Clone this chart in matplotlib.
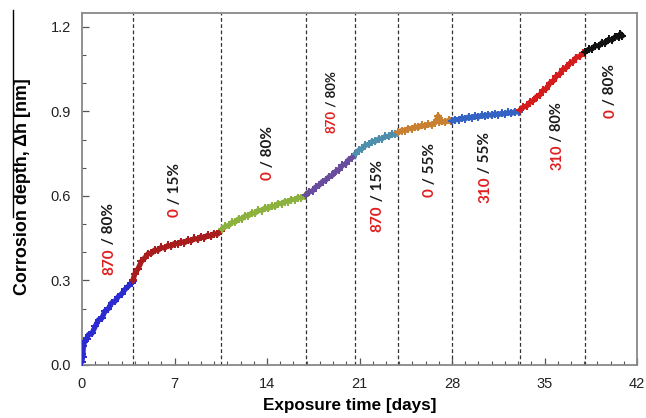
import matplotlib
matplotlib.use("Agg")
import matplotlib.pyplot as plt
from matplotlib.ticker import MultipleLocator, FormatStrFormatter
from matplotlib.lines import Line2D

# ---------------- data ----------------
t1 = [0.0, 0.03, 0.06, 0.1, 0.2, 0.35, 0.5, 0.75, 1.0, 1.25, 1.5, 1.75, 2.0, 2.25, 2.5, 2.75, 3.0, 3.25, 3.5, 3.75, 3.83]
v1 = [0.012, 0.040, 0.028, 0.066, 0.084, 0.092, 0.108, 0.112, 0.137, 0.160, 0.166, 0.192, 0.200, 0.221, 0.226, 0.243, 0.252, 0.268, 0.279, 0.292, 0.298]

t2 = [3.85, 4.0, 4.25, 4.5, 4.75, 5.0, 5.25, 5.5, 5.75, 6.0, 6.25, 6.5, 6.75, 7.0, 7.25, 7.5, 7.75, 8.0,
      8.25, 8.5, 8.75, 9.0, 9.25, 9.5, 9.75, 10.0, 10.25, 10.5]
v2 = [0.300, 0.324, 0.342, 0.368, 0.380, 0.395, 0.396, 0.408, 0.407, 0.417, 0.415, 0.424, 0.422, 0.431, 0.430, 0.437, 0.434, 0.443,
      0.440, 0.449, 0.446, 0.455, 0.451, 0.460, 0.457, 0.466, 0.464, 0.474]

t3 = [10.6, 10.85, 11.1, 11.35, 11.6, 11.85, 12.1, 12.35, 12.6, 12.85, 13.1, 13.35, 13.6, 13.85, 14.1, 14.35,
      14.6, 14.85, 15.1, 15.35, 15.6, 15.85, 16.1, 16.35, 16.6, 16.85]
v3 = [0.482, 0.492, 0.495, 0.506, 0.508, 0.518, 0.519, 0.529, 0.530, 0.539, 0.539, 0.549, 0.548, 0.557, 0.556, 0.564,
      0.563, 0.573, 0.572, 0.580, 0.580, 0.587, 0.586, 0.594, 0.593, 0.600]

t4 = [16.95, 17.2, 17.45, 17.7, 17.95, 18.2, 18.45, 18.7, 18.95, 19.2, 19.45, 19.7, 19.95, 20.2, 20.45, 20.65]
v4 = [0.603, 0.614, 0.618, 0.632, 0.638, 0.651, 0.656, 0.668, 0.673, 0.687, 0.693, 0.708, 0.714, 0.729, 0.736, 0.747]

t5 = [20.7, 20.95, 21.2, 21.45, 21.7, 21.95, 22.2, 22.45, 22.7, 22.95, 23.2, 23.45, 23.7, 23.9]
v5 = [0.750, 0.762, 0.768, 0.780, 0.783, 0.793, 0.794, 0.802, 0.803, 0.811, 0.811, 0.819, 0.818, 0.823]

t6 = [23.95, 24.2, 24.45, 24.7, 24.95, 25.2, 25.45, 25.7, 25.95, 26.2, 26.45, 26.7, 26.85, 26.95, 27.05, 27.25, 27.5, 27.75, 27.95]
v6 = [0.826, 0.832, 0.832, 0.839, 0.838, 0.845, 0.843, 0.850, 0.848, 0.854, 0.852, 0.859, 0.870, 0.884, 0.862, 0.864, 0.862, 0.868, 0.866]

t7 = [28.0, 28.25, 28.5, 28.75, 29.0, 29.25, 29.5, 29.75, 30.0, 30.25, 30.5, 30.75, 31.0, 31.25, 31.5, 31.75,
      32.0, 32.25, 32.5, 32.75, 33.05]
v7 = [0.866, 0.871, 0.870, 0.876, 0.874, 0.880, 0.877, 0.883, 0.880, 0.886, 0.883, 0.888, 0.886, 0.891, 0.888, 0.893,
      0.891, 0.896, 0.893, 0.899, 0.897]

t8 = [33.15, 33.4, 33.65, 33.9, 34.15, 34.4, 34.65, 34.9, 35.15, 35.4, 35.65, 35.9, 36.15, 36.4, 36.65, 36.9,
      37.15, 37.4, 37.65, 37.9, 38.0]
v8 = [0.905, 0.915, 0.919, 0.932, 0.938, 0.952, 0.958, 0.975, 0.981, 1.000, 1.007, 1.025, 1.032, 1.049, 1.055, 1.070,
      1.076, 1.091, 1.095, 1.106, 1.108]

t9 = [38.1, 38.35, 38.6, 38.85, 39.1, 39.35, 39.6, 39.85, 40.1, 40.35, 40.6, 40.75, 40.9]
v9 = [1.111, 1.120, 1.122, 1.133, 1.132, 1.143, 1.143, 1.155, 1.153, 1.164, 1.163, 1.175, 1.168]

segment_times = [t1, t2, t3, t4, t5, t6, t7, t8, t9]
segment_values = [v1, v2, v3, v4, v5, v6, v7, v8, v9]
segment_colors = ["#2b2bd0", "#a81c1c", "#8db13f", "#6a4c9c", "#4f8fae",
                  "#c98030", "#3563c4", "#d41c1c", "#111111"]

boundaries = [3.83, 10.55, 16.92, 20.67, 23.92, 27.97, 33.13, 38.04]

label_nums = ["870", "0", "0", "870", "870", "0", "310", "310", "0"]
label_rest = [" / 80%", " / 15%", " / 80%", " / 80%", " / 15%", " / 55%", " / 55%", " / 80%", " / 80%"]
# placement (day, bottom of text in data units, font size)
label_pos_x = [2.04, 7.04, 14.08, 18.85, 22.37, 26.34, 30.5, 35.96, 39.97]
label_pos_y = [0.319, 0.526, 0.656, 0.823, 0.473, 0.596, 0.574, 0.691, 0.876]
label_fs = [11, 11, 11, 9.5, 11, 11, 11, 10.5, 11]

xticks = [0, 7, 14, 21, 28, 35, 42]
yticks = [0.0, 0.3, 0.6, 0.9, 1.2]

# ---------------- figure ----------------
fig = plt.figure(figsize=(6.46, 4.18), dpi=100)
ax = fig.add_axes([82 / 646, 1 - 365 / 418, 555 / 646, (365 - 12.7) / 418])

for b in boundaries:
    ax.axvline(b, color="#333333", lw=0.9, ls=(0, (3, 2)), zorder=1)

for tt, vv, c in zip(segment_times, segment_values, segment_colors):
    ax.plot(tt, vv, color=c, lw=3.8, marker="P", ms=6, mew=0, zorder=3,
            solid_joinstyle="round", solid_capstyle="round")

ax.set_xlim(0, 42)
ax.set_ylim(0, 1.25)
ax.set_xticks(xticks)
ax.set_yticks(yticks)
ax.xaxis.set_minor_locator(MultipleLocator(1))
ax.yaxis.set_minor_locator(MultipleLocator(0.1))
ax.yaxis.set_major_formatter(FormatStrFormatter("%.1f"))

for lab in ax.get_xticklabels() + ax.get_yticklabels():
    lab.set_fontfamily("Liberation Sans")
    lab.set_fontsize(10.5)
    lab.set_color("#222222")

ax.tick_params(which="major", direction="in", length=5, width=0.9, color="#555555", pad=8)
ax.tick_params(which="minor", direction="in", length=3, width=0.8, color="#555555")
ax.tick_params(axis="x", which="major", pad=9)

for s in ax.spines.values():
    s.set_color("#888888")
    s.set_linewidth(1.3)

ax.set_xlabel("Exposure time [days]", fontsize=12.3, fontweight="bold", family="Liberation Sans")
ax.set_ylabel("Corrosion depth, \u0394h [nm]", fontsize=12.9, fontweight="bold", family="Liberation Sans")
ax.xaxis.set_label_coords(0.483, -0.093)
ax.yaxis.set_label_coords(-0.092, 0.505)

# overline artifact next to the y label
fig.add_artist(Line2D([13 / 646, 13 / 646], [1 - 10 / 418, 1 - 217 / 418], color="black", lw=1.0))

for x, y, n, r, fs in zip(label_pos_x, label_pos_y, label_nums, label_rest, label_fs):
    tn = ax.text(x, y, n, color="#e01e1e", rotation=90, ha="center", va="bottom",
                 fontsize=fs, fontweight="bold", family="Lato", zorder=5)
    ax.annotate(r, xy=(0.5, 1.0), xycoords=tn, rotation=90, ha="center", va="bottom",
                fontsize=fs, fontweight="bold", family="Lato", color="#1a1a1a", zorder=5)

fig.savefig("out.png", dpi=100)
